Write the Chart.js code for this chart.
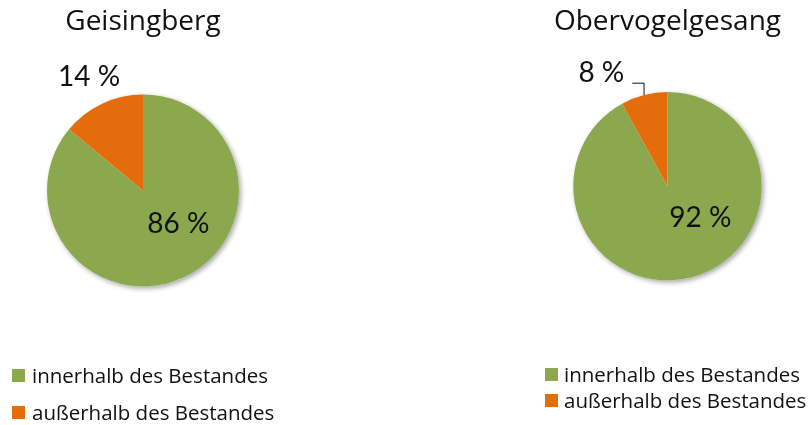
<!DOCTYPE html>
<html>
<head>
<meta charset="utf-8">
<script src="https://cdn.jsdelivr.net/npm/chart.js@4/dist/chart.umd.min.js"></script>
<style>
  html, body { margin: 0; padding: 0; background: #ffffff; overflow: hidden; width: 811px; height: 425px; }
  .panel { position: absolute; top: 0; height: 425px; }
  canvas { display: block; }
</style>
</head>
<body>
<div class="panel" style="left:0px;width:286px"><canvas id="chartGeisingberg" width="286" height="425"></canvas></div>
<div class="panel" style="left:524px;width:287px"><canvas id="chartObervogelgesang" width="287" height="425"></canvas></div>
<script>
// Share of observations inside / outside the stand, per site (percent)
const categories = ['innerhalb des Bestandes', 'außerhalb des Bestandes'];
const siteNames = ['Geisingberg', 'Obervogelgesang'];
const geisingbergShares = [86, 14];
const obervogelgesangShares = [92, 8];
const sliceColors = ['#8BA84F', '#E46C0A'];

const FONT = '"Open Sans", Lato, "Liberation Sans", sans-serif';
const LABEL_FONT = 'Lato, "Open Sans", "Liberation Sans", sans-serif';
const TEXT_COLOR = '#111111';

// Soft drop shadow behind the whole pie
const pieShadow = {
  id: 'pieShadow',
  beforeDatasetsDraw(chart) {
    const arc = chart.getDatasetMeta(0).data[0];
    if (!arc) return;
    const { x, y, outerRadius } = arc.getProps(['x', 'y', 'outerRadius'], true);
    const ctx = chart.ctx;
    ctx.save();
    ctx.shadowColor = 'rgba(0,0,0,0.35)';
    ctx.shadowBlur = 5;
    ctx.shadowOffsetX = 2;
    ctx.shadowOffsetY = 2;
    ctx.fillStyle = '#ffffff';
    ctx.beginPath();
    ctx.arc(x, y, outerRadius, 0, Math.PI * 2);
    ctx.fill();
    ctx.restore();
  }
};

// Percentage labels placed relative to each slice; optional leader line
const sliceLabels = {
  id: 'sliceLabels',
  afterDatasetsDraw(chart, args, opts) {
    const ctx = chart.ctx;
    const meta = chart.getDatasetMeta(0);
    const values = chart.data.datasets[0].data;
    ctx.save();
    ctx.font = `${opts.size}px ${LABEL_FONT}`;
    ctx.fillStyle = TEXT_COLOR;
    ctx.strokeStyle = TEXT_COLOR;
    ctx.lineWidth = 1;
    ctx.textAlign = 'center';
    ctx.textBaseline = 'alphabetic';
    const capHalf = opts.size * 0.72 / 2;
    meta.data.forEach((arc, i) => {
      const p = opts.placements[i];
      const { x, y, startAngle, endAngle, outerRadius } =
        arc.getProps(['x', 'y', 'startAngle', 'endAngle', 'outerRadius'], true);
      const mid = (startAngle + endAngle) / 2;
      const ang = p.angle !== undefined ? p.angle * Math.PI / 180 : mid;
      const lx = x + Math.cos(ang) * outerRadius * p.r;
      const ly = y + Math.sin(ang) * outerRadius * p.r;
      const text = values[i] + ' %';
      if (p.leader) {
        const w = ctx.measureText(text).width;
        const ex = x + Math.cos(mid) * outerRadius;
        const ey = y + Math.sin(mid) * outerRadius;
        const sx = lx + w / 2 + 8;
        const sy = ly + capHalf + 1;
        ctx.beginPath();
        ctx.moveTo(sx, sy);
        ctx.lineTo(ex, sy);
        ctx.lineTo(ex, ey);
        ctx.stroke();
      }
      ctx.fillText(text, lx, ly + capHalf);
    });
    ctx.restore();
  }
};

// Legend drawn as a vertical list of square markers and names
const stackedLegend = {
  id: 'stackedLegend',
  afterDraw(chart, args, opts) {
    const items = chart.legend ? chart.legend.legendItems : [];
    const ctx = chart.ctx;
    ctx.save();
    ctx.font = `${opts.size}px ${FONT}`;
    ctx.textAlign = 'left';
    ctx.textBaseline = 'alphabetic';
    items.forEach((item, i) => {
      const top = opts.y + i * opts.rowGap;
      ctx.fillStyle = item.fillStyle;
      ctx.fillRect(opts.x, top, opts.box, opts.box);
      ctx.fillStyle = TEXT_COLOR;
      ctx.fillText(item.text, opts.x + opts.box + opts.gap, top + opts.box + 1);
    });
    ctx.restore();
  }
};

function makePie(canvasId, title, shares, layout) {
  return new Chart(document.getElementById(canvasId), {
    type: 'pie',
    data: {
      labels: categories,
      datasets: [{
        data: shares,
        backgroundColor: sliceColors,
        borderWidth: 0,
        hoverOffset: 0
      }]
    },
    options: {
      responsive: false,
      animation: false,
      events: [],
      layout: { padding: layout.padding },
      plugins: {
        legend: { display: false },
        tooltip: { enabled: false },
        title: {
          display: true,
          text: title,
          color: TEXT_COLOR,
          font: { family: FONT, size: 28, weight: 'normal' },
          padding: layout.titlePadding
        },
        sliceLabels: { size: 28, placements: layout.labels },
        stackedLegend: layout.legend
      }
    },
    plugins: [pieShadow, sliceLabels, stackedLegend]
  });
}

makePie('chartGeisingberg', siteNames[0], geisingbergShares, {
  padding: { left: 0, right: 0, top: 0, bottom: 138.5 },
  titlePadding: { top: 5.6, bottom: 55.3 },
  labels: [{ angle: 42.5, r: 0.50 }, { r: 1.32 }],
  legend: { x: 12, y: 369, rowGap: 37, box: 13, gap: 7, size: 20.5 }
});

makePie('chartObervogelgesang', siteNames[1], obervogelgesangShares, {
  padding: { left: 0, right: 0, top: 0, bottom: 144.5 },
  titlePadding: { top: 5.6, bottom: 52.8 },
  labels: [{ angle: 43.4, r: 0.48 }, { angle: -120.1, r: 1.40, leader: true }],
  legend: { x: 21, y: 368, rowGap: 26, box: 13, gap: 6, size: 20.5 }
});
</script>
</body>
</html>
